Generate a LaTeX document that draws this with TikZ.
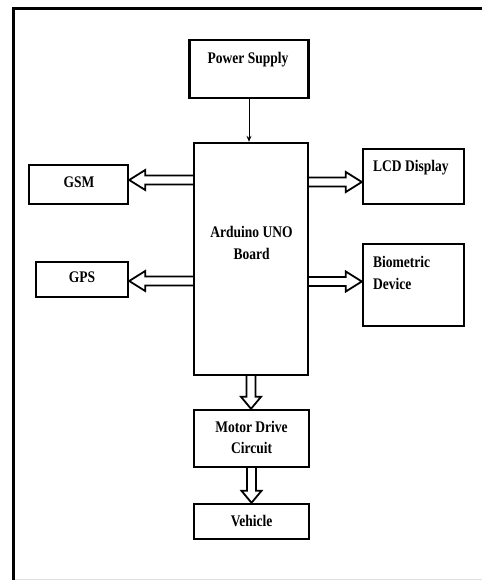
\documentclass[tikz,border=0pt]{standalone}
\usepackage{fontspec}
\setmainfont{Liberation Serif}
\usetikzlibrary{calc,arrows.meta}
\newcommand\stx[1]{\scalebox{1}[1.2]{#1}}
\begin{document}
\begin{tikzpicture}[x=1pt,y=-1pt,
  box/.style={draw, line width=2.4pt, inner sep=0pt},
  lbl/.style={font=\bfseries\fontsize{13.5}{18}\selectfont, inner sep=0pt, align=center, text height=9pt, text depth=2.5pt, yshift=-1.5pt},
  lbll/.style={lbl, align=left, anchor=west},
  thin/.style={line width=1pt, -{Stealth[length=6pt,width=5pt]}},
  fat/.style={line width=1.8pt, line join=miter, to path={
    ($(\tikztostart)!4.5pt!90:(\tikztotarget)$) --
    ($(\tikztotarget)!#1!(\tikztostart)!4.5pt!90:(\tikztotarget)$) --
    ($(\tikztotarget)!#1!(\tikztostart)!10pt!90:(\tikztotarget)$) --
    (\tikztotarget) --
    ($(\tikztotarget)!#1!(\tikztostart)!10pt!-90:(\tikztotarget)$) --
    ($(\tikztotarget)!#1!(\tikztostart)!4.5pt!-90:(\tikztotarget)$) --
    ($(\tikztostart)!4.5pt!-90:(\tikztotarget)$)}},
  fat/.default=16pt]
\useasboundingbox (0,0) rectangle (482,580);
% frame
\draw[line width=3pt] (482,8.5) -- (13.5,8.5) -- (13.5,580);
\draw[black!12, line width=1pt] (15,579.5) -- (482,579.5);
% boxes
\node[box, minimum width=119pt, minimum height=58pt] (ps) at (249,69) {};
\node[box, minimum width=114pt, minimum height=232pt] (ard) at (251,259) {};
\node[box, minimum width=99pt, minimum height=39pt] (gsm) at (78.5,184.5) {};
\node[box, minimum width=92pt, minimum height=35pt] (gps) at (82,279.5) {};
\node[box, minimum width=101pt, minimum height=55pt] (lcd) at (413.5,176.5) {};
\node[box, minimum width=101pt, minimum height=82pt] (bio) at (413.5,285) {};
\node[box, minimum width=115pt, minimum height=57pt] (mot) at (251.5,438.5) {};
\node[box, minimum width=115pt, minimum height=35pt] (veh) at (251.5,521.5) {};
% labels
\node[lbl] (tps) at (248,59) {\stx{Power Supply}};
\node[lbl] (tard1) at (251.5,232.5) {\stx{Arduino UNO}};
\node[lbl] (tard2) at (251.5,254.5) {\stx{Board}};
\node[lbl] (tgsm) at (79,183) {\stx{GSM}};
\node[lbl] (tgps) at (82,278) {\stx{GPS}};
\node[lbll] (tlcd) at (373,167) {\stx{LCD Display}};
\node[lbll] (tbio1) at (373,262.5) {\stx{Biometric}};
\node[lbll] (tbio2) at (373,284.5) {\stx{Device}};
\node[lbl] (tmot1) at (251.5,428) {\stx{Motor Drive}};
\node[lbl] (tmot2) at (251.5,449) {\stx{Circuit}};
\node[lbl] (tveh) at (251.5,521.5) {\stx{Vehicle}};
% connectors
\draw[thin] (ps.south) -- (ps.south |- ard.north);
\coordinate (g1) at ([yshift=4.5pt]gsm.east);
\coordinate (g2) at ([yshift=-1.5pt]gps.east);
\coordinate (l1) at ([yshift=-5.5pt]lcd.west);
\coordinate (b1) at ([yshift=3.5pt]bio.west);
\draw[fat] (ard.west |- g1) to (g1);
\draw[fat] (ard.west |- g2) to (g2);
\draw[fat] (ard.east |- l1) to (l1);
\draw[fat] (ard.east |- b1) to (b1);
\draw[fat=12pt] (ard.south) to (ard.south |- mot.north);
\draw[fat=12pt] (mot.south) to (mot.south |- veh.north);
\end{tikzpicture}
\end{document}
